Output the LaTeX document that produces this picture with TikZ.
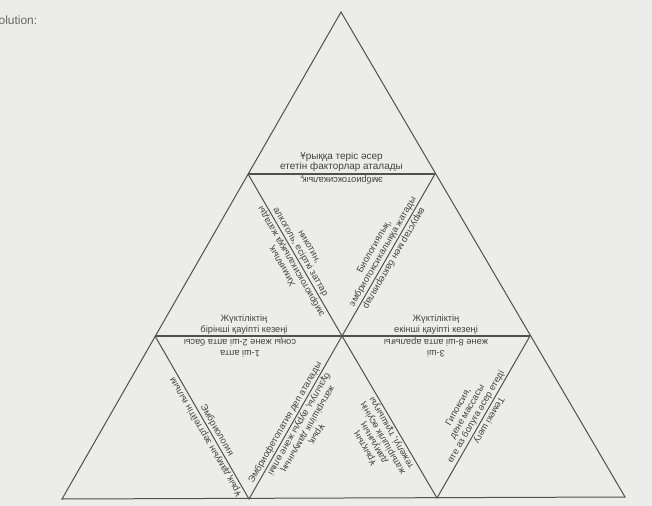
\documentclass[tikz,border=0pt]{standalone}
\usepackage{fontspec}
\setmainfont{Liberation Sans}
\usetikzlibrary{calc}
\definecolor{paper}{HTML}{ECECEA}
\definecolor{ink}{HTML}{505050}
\definecolor{txt}{HTML}{424242}
\definecolor{head}{HTML}{666666}
\begin{document}
\begin{tikzpicture}[x=1bp,y=-1bp,
  edge/.style={draw=ink, line width=1bp, line join=miter},
  seam/.style={draw=ink, line width=1.7bp},
  lbl/.style={font=\fontsize{9.3}{10.2}\selectfont, text=txt, align=center, inner sep=1.8bp, anchor=south},
  toplbl/.style={lbl, font=\fontsize{10}{10.8}\selectfont},
  headlbl/.style={font=\fontsize{12}{14}\selectfont, text=head, inner sep=0pt, anchor=base west}
]
\useasboundingbox[fill=paper] (0,0) rectangle (652,506);

% corners of the pieces
\coordinate (A)   at (341,12);
\coordinate (P1L) at (248,174);
\coordinate (P1R) at (435,174);
\coordinate (P2L) at (155,336);
\coordinate (P2M) at (342,336);
\coordinate (P2R) at (530,336);
\coordinate (B0)  at (62,499);
\coordinate (B1)  at (249,499);
\coordinate (B2)  at (437,498);
\coordinate (B3)  at (625,497);

\node[headlbl] (hd) at (-9.5,25) {Solution:};

% outline and cuts
\draw[edge] (A) -- (B0) -- (B3) -- cycle;
\draw[seam] (P1L) -- (P1R);
\draw[seam] (P2L) -- (P2R);
\draw[edge] (P1L) -- (P2M) -- (P1R);
\draw[edge] (P2L) -- (B1) -- (P2M) -- (B2) -- (P2R);

% top edge
\node[toplbl] (t1) at ($(P1L)!0.5!(P1R)$) {Ұрыққа теріс әсер\\ететін факторлар аталады};
\node[lbl, rotate=180] (t2) at ($(P1L)!0.5!(P1R)$) {эмбриотоксикалық,};

% row 2 slanted edges
\node[lbl, rotate=120] (t3) at ($(P1L)!0.52!(P2M)$) {Химиялық\\эмбриотоксикалыққа жатады};
\node[lbl, rotate=-60] (t4) at ($(P1L)!0.5!(P2M)$) {никотин,\\алкоголь, есірткі заттар};
\node[lbl, rotate=60] (t5) at ($(P1R)!0.5!(P2M)$) {Биологиялық,\\эмбриотоксикалыққа жатады};
\node[lbl, rotate=-120] (t6) at ($(P1R)!0.5!(P2M)$) {вирустар мен бактериялар};

% row 2 bottom edge
\node[lbl] (t7) at (244,336) {Жүктіліктің\\бірінші қауіпті кезеңі};
\node[lbl, rotate=180] (t8) at (240,336) {1-ші апта\\соңы және 2-ші апта басы};
\node[lbl] (t9) at (436,336) {Жүктіліктің\\екінші қауіпті кезеңі};
\node[lbl, rotate=180] (t10) at (436,336) {3-ші\\және 8-ші апта аралығы};

% row 3 slanted edges
\node[lbl, rotate=120] (t11) at ($(P2L)!0.6!(B1)$) {Ұрық дамуын зерттейтін ғылым};
\node[lbl, rotate=-60] (t12) at ($(P2L)!0.6!(B1)$) {Эмбриология};
\node[lbl, rotate=60] (t13) at ($(P2M)!0.55!(B1)$) {Эмбриофетопатия деп аталады};
\node[lbl, rotate=-120] (t14) at ($(P2M)!0.52!(B1)$) {Ұрық\\жатырішілік дамуының\\бұзылуы, ауруы және өлімі};
\node[lbl, rotate=120] (t15) at ($(P2M)!0.58!(B2)$) {Ұрықтың\\дамуының\\жатырішілік өсуінің\\тежелуі, тұншығуы};
\node[lbl, rotate=60] (t16) at ($(P2R)!0.52!(B2)$) {Гипоксия,\\дене массасы\\өте аз болуға әсер етеді};
\node[lbl, rotate=-120] (t17) at ($(P2R)!0.5!(B2)$) {Темекі шегу};
\end{tikzpicture}
\end{document}
